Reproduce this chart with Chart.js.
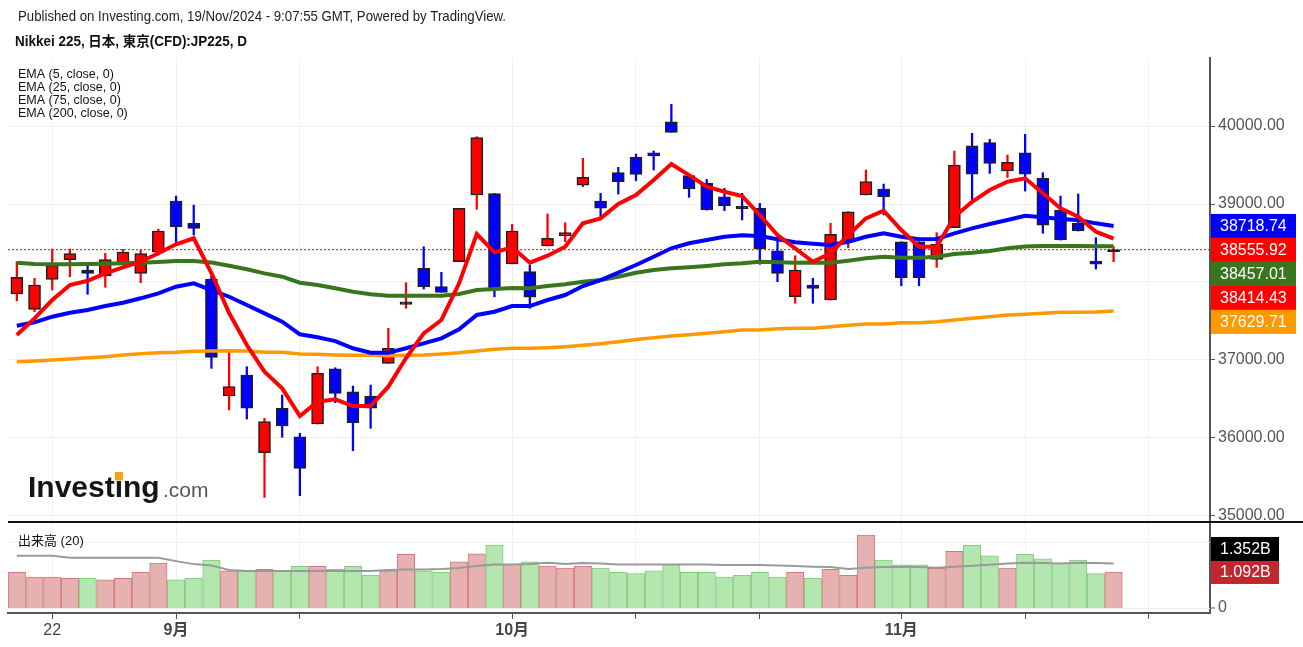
<!DOCTYPE html>
<html>
<head>
<meta charset="utf-8">
<script src="https://cdn.jsdelivr.net/npm/chart.js@4.4.1/dist/chart.umd.min.js"></script>
<style>
  html, body { margin: 0; padding: 0; background: #fff; }
  canvas { display: block; }
</style>
</head>
<body>
<canvas id="chart" width="1303" height="647"></canvas>
<script>
// daily candles, Aug 20 -> Nov 19 2024 (index = trading day)
const opens = [
  37846, 37650, 38034, 38286, 38154, 38077, 38227, 38111, 38381, 39038,
  38752, 38038, 36538, 36807, 35811, 36381, 36016, 36179, 36888, 36593,
  36538, 36957, 37712, 38175, 37940, 38260, 39115, 39132, 38231, 38132,
  38461, 38593, 39243, 39038, 39404, 39598, 39657, 40055, 39363, 39265,
  39093, 38970, 38945, 38401, 37811, 37961, 37769, 38538, 39115, 39192,
  38516, 38516, 38291, 38696, 39747, 39786, 39423, 39657, 39329, 38923,
  38752, 38269, 38390
];
const highs = [
  38260, 38047, 38423, 38423, 38218, 38368, 38419, 38410, 38679, 39102,
  38987, 38081, 37099, 36914, 36252, 36551, 36060, 36914, 36901, 36666,
  36679, 37406, 37991, 38452, 38124, 38945, 39863, 39137, 38739, 38218,
  38872, 38760, 39586, 39137, 39470, 39641, 39679, 40278, 39363, 39316,
  39201, 39137, 39009, 38538, 38337, 38047, 38752, 38901, 39436, 39256,
  38516, 38516, 38632, 39679, 39906, 39829, 39628, 39893, 39401, 39102,
  39128, 38568, 38452
];
const lows = [
  37760, 37619, 37897, 38068, 37842, 37932, 38218, 37991, 38346, 38496,
  38602, 36893, 36359, 36243, 35239, 36009, 35260, 36179, 36452, 35837,
  36124, 36957, 37663, 37910, 37868, 38260, 38932, 37811, 38231, 37663,
  38461, 38516, 39222, 38837, 39128, 39298, 39436, 39919, 39086, 38923,
  38914, 38795, 38227, 38004, 37727, 37727, 37769, 38439, 39115, 38859,
  37952, 37952, 38188, 38696, 39029, 39393, 39339, 39166, 38624, 38538,
  38654, 38166, 38260
];
const closes = [
  38060, 37961, 38214, 38363, 38111, 38286, 38384, 38363, 38654, 38709,
  38688, 37034, 36658, 36381, 36209, 36154, 35611, 36829, 36573, 36196,
  36381, 37150, 37745, 37940, 37868, 38945, 39850, 37919, 38654, 37804,
  38560, 38632, 39342, 38945, 39286, 39380, 39615, 39919, 39192, 38923,
  38978, 38940, 38423, 38111, 38154, 37919, 38611, 38901, 39286, 39093,
  38055, 38055, 38483, 39500, 39384, 39521, 39534, 39384, 38730, 38538,
  38654, 38227, 38414.43
];
const ema5 = [
  37320, 37534, 37769, 37961, 38016, 38111, 38188, 38260, 38368, 38483,
  38560, 38115, 37602, 37192, 36850, 36637, 36282, 36465, 36496, 36410,
  36410, 36658, 37025, 37342, 37513, 37983, 38615, 38380, 38445, 38247,
  38337, 38452, 38752, 38816, 39000, 39115, 39307, 39512, 39371, 39221,
  39157, 39102, 38859, 38602, 38432, 38260, 38368, 38602, 38816, 38914,
  38666, 38452, 38452, 38837, 39029, 39179, 39286, 39329, 39137, 38945,
  38837, 38645, 38555.92
];
const ema25 = [
  37440, 37483, 37555, 37606, 37641, 37692, 37734, 37791, 37855, 37940,
  37983, 37897, 37811, 37705, 37598, 37491, 37329, 37291, 37243, 37150,
  37093, 37093, 37150, 37214, 37278, 37393, 37577, 37619, 37692, 37692,
  37769, 37833, 37948, 38025, 38119, 38218, 38324, 38432, 38496, 38538,
  38580, 38598, 38589, 38547, 38509, 38489, 38474, 38516, 38580, 38624,
  38580, 38547, 38551, 38624, 38688, 38743, 38795, 38848, 38829, 38807,
  38795, 38752, 38718.74
];
const ema75 = [
  38247, 38231, 38227, 38227, 38231, 38234, 38240, 38247, 38256, 38269,
  38269, 38250, 38209, 38163, 38111, 38068, 37991, 37961, 37919, 37875,
  37842, 37824, 37824, 37824, 37824, 37846, 37897, 37910, 37923, 37919,
  37948, 37970, 38004, 38025, 38068, 38119, 38154, 38175, 38188, 38205,
  38227, 38240, 38260, 38252, 38247, 38250, 38247, 38273, 38304, 38324,
  38311, 38311, 38324, 38359, 38375, 38397, 38432, 38455, 38461, 38461,
  38461, 38459, 38457.01
];
const ema200 = [
  36978, 36987, 37000, 37013, 37029, 37042, 37064, 37081, 37093, 37099,
  37111, 37115, 37119, 37115, 37099, 37099, 37077, 37073, 37064, 37060,
  37060, 37055, 37060, 37064, 37077, 37093, 37115, 37137, 37150, 37150,
  37158, 37170, 37188, 37209, 37235, 37262, 37285, 37308, 37324, 37342,
  37363, 37384, 37384, 37401, 37406, 37406, 37427, 37445, 37461, 37461,
  37478, 37478, 37491, 37513, 37534, 37555, 37577, 37586, 37598, 37611,
  37611, 37615, 37629.71
];
// volume in billions
const volumes = [
  1.08, 0.94, 0.94, 0.90, 0.90, 0.85, 0.90, 1.08, 1.36, 0.85,
  0.90, 1.45, 1.13, 1.13, 1.17, 1.13, 1.26, 1.26, 1.17, 1.26,
  0.99, 1.13, 1.63, 1.13, 1.08, 1.40, 1.64, 1.91, 1.32, 1.40,
  1.27, 1.21, 1.27, 1.21, 1.08, 1.04, 1.13, 1.32, 1.08, 1.08,
  0.94, 0.99, 1.08, 0.94, 1.08, 0.90, 1.17, 0.99, 2.21, 1.45,
  1.31, 1.31, 1.20, 1.72, 1.90, 1.58, 1.21, 1.63, 1.49, 1.35,
  1.45, 1.04, 1.092
];
const volumeMA = [
  1.58, 1.58, 1.58, 1.52, 1.52, 1.52, 1.52, 1.52, 1.52, 1.42,
  1.33, 1.29, 1.15, 1.12, 1.12, 1.12, 1.12, 1.12, 1.12, 1.12,
  1.12, 1.15, 1.17, 1.17, 1.18, 1.21, 1.27, 1.32, 1.32, 1.33,
  1.37, 1.33, 1.36, 1.35, 1.32, 1.32, 1.32, 1.32, 1.32, 1.32,
  1.30, 1.30, 1.30, 1.29, 1.27, 1.25, 1.24, 1.18, 1.22, 1.24,
  1.25, 1.24, 1.22, 1.25, 1.28, 1.31, 1.35, 1.37, 1.36, 1.35,
  1.37, 1.36, 1.352
];
const xTickIndex = [2, 9, 16, 28, 35, 42, 50, 57, 64];
const xTickLabels = ['22', '9月', '', '10月', '', '', '11月', '', ''];
const priceTicks = [35000, 36000, 37000, 38000, 39000, 40000];
const volGridTicks = [0, 2];
const emaLegend = ['EMA (5, close, 0)', 'EMA (25, close, 0)', 'EMA (75, close, 0)', 'EMA (200, close, 0)'];

const FONT = '"Liberation Sans", Arial, "Noto Sans CJK JP", sans-serif';
Chart.defaults.font.family = FONT;

const idx = closes.map((_, i) => i);
const isDoji = i => Math.abs(closes[i] - opens[i]) <= 35;
const isUp = i => closes[i] >= opens[i];

const bodyColors = idx.map(i => isDoji(i) ? '#000000' : (isUp(i) ? '#ff0000' : '#0000ff'));
const wickColors = idx.map(i => isUp(i) ? '#ff0000' : '#0000ff');
const volFill = idx.map(i => isUp(i) ? '#e6b1b1' : '#b4e6b0');
const volLine = idx.map(i => isUp(i) ? '#d47a7a' : '#82cf7c');

const lineSet = (label, values, color, width, order, axis) => ({
  type: 'line', label,
  data: idx.map(i => ({ x: i, y: values[i] })),
  borderColor: color, borderWidth: width,
  pointRadius: 0, order, yAxisID: axis
});

function tag(ctx, y, w, color, text) {
  ctx.fillStyle = color;
  ctx.fillRect(1211, y - 12, w, 24);
  ctx.fillStyle = '#ffffff';
  ctx.font = '16px ' + FONT;
  ctx.textBaseline = 'middle';
  ctx.textAlign = 'left';
  ctx.fillText(text, 1220, y + 1);
}

const overlay = {
  id: 'overlay',
  beforeDatasetsDraw(chart) {
    const { ctx, chartArea: a, scales: { y, yv } } = chart;
    ctx.save();
    // volume pane grid
    ctx.strokeStyle = '#eeeeee';
    ctx.lineWidth = 1;
    volGridTicks.forEach(v => {
      const py = Math.round(yv.getPixelForValue(v)) + 0.5;
      ctx.beginPath(); ctx.moveTo(a.left, py); ctx.lineTo(a.right, py); ctx.stroke();
    });
    // last price dotted line
    const lp = y.getPixelForValue(closes[closes.length - 1]);
    ctx.strokeStyle = '#ff0000';
    ctx.setLineDash([2, 2]);
    ctx.beginPath(); ctx.moveTo(a.left, lp); ctx.lineTo(a.right, lp); ctx.stroke();
    ctx.setLineDash([]);
    // watermark
    ctx.textBaseline = 'alphabetic';
    ctx.fillStyle = '#151515';
    ctx.font = 'bold 30px ' + FONT;
    ctx.fillText('Investing', 28, 497);
    const iX = 28 + ctx.measureText('Invest').width + ctx.measureText('i').width / 2;
    ctx.fillStyle = '#f5a01a';
    ctx.fillRect(iX - 4, 472, 8, 8.5);
    ctx.fillStyle = '#555555';
    ctx.font = '21px ' + FONT;
    ctx.fillText('.com', 163, 497);
    ctx.restore();
  },
  afterDraw(chart) {
    const { ctx, chartArea: a, scales: { y, yv } } = chart;
    ctx.save();
    ctx.textAlign = 'left';
    ctx.textBaseline = 'alphabetic';
    ctx.fillStyle = '#222222';
    ctx.font = '14.5px ' + FONT;
    ctx.fillText('Published on Investing.com, 19/Nov/2024 - 9:07:55 GMT, Powered by TradingView.', 18, 21, 488);
    ctx.fillStyle = '#111111';
    ctx.font = 'bold 14px ' + FONT;
    ctx.fillText('Nikkei 225, 日本, 東京(CFD):JP225, D', 15, 46, 232);
    ctx.font = '12.5px ' + FONT;
    const legW = [100, 105, 105, 112];
    emaLegend.forEach((t, k) => ctx.fillText(t, 18, 77.5 + k * 13.3, legW[k]));
    ctx.font = '13px ' + FONT;
    ctx.fillText('出来高 (20)', 18, 545, 66);

    // pane separator
    ctx.fillStyle = '#ffffff';
    ctx.fillRect(a.right + 2, 523, 1303 - a.right, 13);
    ctx.fillStyle = '#111111';
    ctx.fillRect(a.left, 521, 1303 - a.left, 2);

    // volume axis zero label
    const z = yv.getPixelForValue(0);
    ctx.strokeStyle = '#555555';
    ctx.lineWidth = 1;
    ctx.beginPath(); ctx.moveTo(a.right, z); ctx.lineTo(a.right + 5, z); ctx.stroke();
    ctx.fillStyle = '#555555';
    ctx.font = '16px ' + FONT;
    ctx.textBaseline = 'middle';
    ctx.fillText('0', 1218, z);

    // price tags, pushed down so they do not overlap
    const last = arr => arr[arr.length - 1];
    const tags = [
      { v: last(ema25), c: '#0000ff' },
      { v: last(ema5), c: '#ff0000' },
      { v: last(ema75), c: '#38761d' },
      { v: last(closes), c: '#ff0000' },
      { v: last(ema200), c: '#ff9900' }
    ].sort((p, q) => q.v - p.v);
    let prev = -Infinity;
    tags.forEach(t => {
      const py = Math.max(y.getPixelForValue(t.v), prev + 24);
      tag(ctx, py, 85, t.c, t.v.toFixed(2));
      prev = py;
    });
    // volume tags, pushed up
    const vtags = [
      { v: last(volumes), c: '#c1272d' },
      { v: last(volumeMA), c: '#000000' }
    ];
    let vprev = Infinity;
    vtags.forEach(t => {
      const py = Math.min(yv.getPixelForValue(t.v), vprev - 23);
      tag(ctx, py, 68, t.c, t.v.toFixed(3) + 'B');
      vprev = py;
    });
    ctx.restore();
  }
};

new Chart(document.getElementById('chart'), {
  type: 'bar',
  data: {
    datasets: [
      lineSet('EMA 5', ema5, '#ff0000', 4, 0, 'y'),
      lineSet('EMA 25', ema25, '#0000ff', 4, 1, 'y'),
      lineSet('EMA 75', ema75, '#38761d', 4, 2, 'y'),
      lineSet('EMA 200', ema200, '#ff9900', 3.5, 3, 'y'),
      {
        type: 'bar', label: 'body',
        data: idx.map(i => ({ x: i, y: [opens[i], closes[i]] })),
        backgroundColor: bodyColors, borderColor: '#1e1e1e', borderWidth: 1.5,
        borderSkipped: false, barThickness: 12, grouped: false, order: 5, yAxisID: 'y'
      },
      {
        type: 'bar', label: 'wick',
        data: idx.map(i => ({ x: i, y: [lows[i], highs[i]] })),
        backgroundColor: wickColors, barThickness: 1.6, grouped: false, order: 6, yAxisID: 'y'
      },
      {
        type: 'bar', label: 'volume',
        data: idx.map(i => ({ x: i, y: volumes[i] })),
        backgroundColor: volFill, borderColor: volLine, borderWidth: 1,
        barThickness: 17.4, grouped: false, order: 10, yAxisID: 'yv'
      },
      lineSet('Volume MA', volumeMA, '#9a9a9a', 2, 0, 'yv')
    ]
  },
  options: {
    responsive: false,
    animation: false,
    devicePixelRatio: 1,
    layout: { padding: { left: 8, top: 58, right: 0, bottom: 0 } },
    plugins: { legend: { display: false }, tooltip: { enabled: false } },
    scales: {
      x: {
        type: 'linear', min: -0.5, max: 67.45, offset: false, bounds: 'data',
        afterBuildTicks: s => { s.ticks = xTickIndex.map(v => ({ value: v })); },
        afterFit: s => { s.height = 34; },
        ticks: {
          autoSkip: false, maxRotation: 0, padding: 2, color: '#444444',
          font: ctx => ({ size: 16, weight: ctx.index === 0 ? 'normal' : 'bold' }),
          callback: (v, i) => xTickLabels[i]
        },
        grid: { color: '#f0f0f0', tickColor: '#555555', tickLength: 6, offset: false },
        border: { color: '#555555', width: 2 }
      },
      y: {
        type: 'linear', position: 'right', min: 33756.4, max: 40871.8, bounds: 'data',
        afterBuildTicks: s => { s.ticks = priceTicks.map(v => ({ value: v })); },
        afterFit: s => { s.width = 93; },
        ticks: { color: '#555555', padding: 3, font: { size: 16 }, callback: v => v.toFixed(2) },
        grid: { color: '#f0f0f0', tickColor: '#555555', tickLength: 5 },
        border: { color: '#555555', width: 2 }
      },
      yv: { type: 'linear', display: false, min: -0.1515, max: 16.667 }
    }
  },
  plugins: [overlay]
});
</script>
</body>
</html>
